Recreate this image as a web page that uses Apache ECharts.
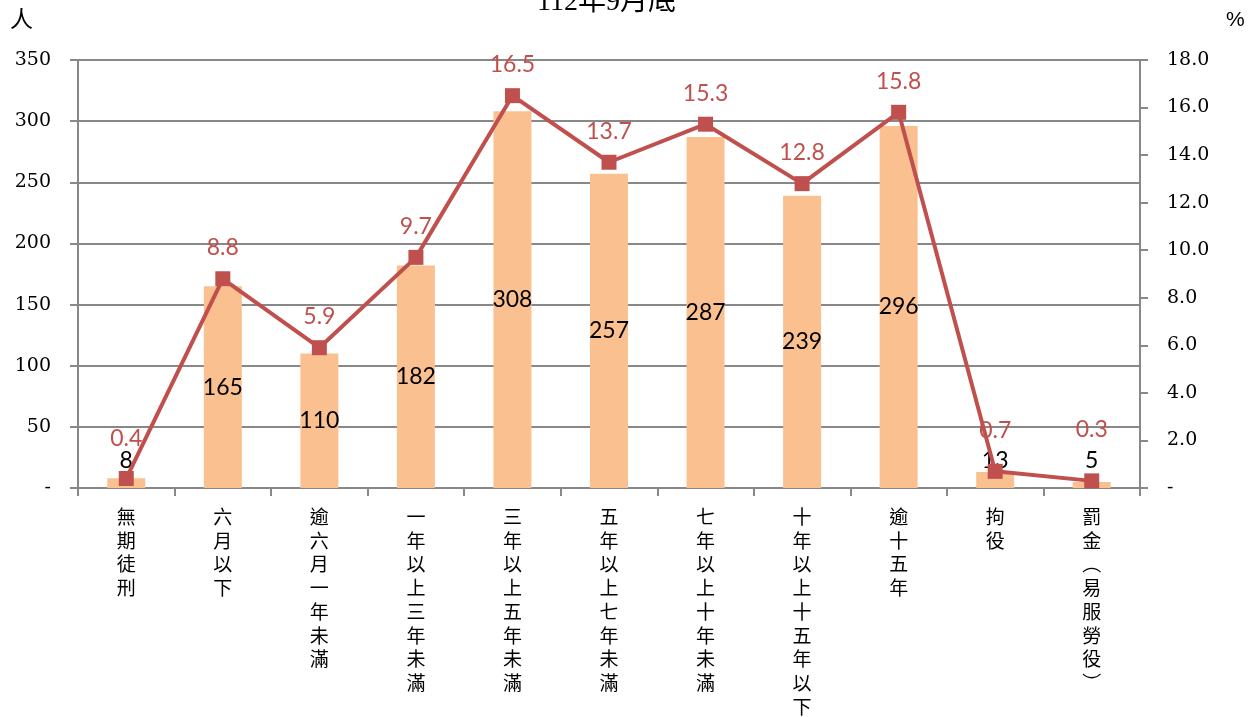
<!DOCTYPE html>
<html><head><meta charset="utf-8">
<script src="https://cdn.jsdelivr.net/npm/echarts@6/dist/echarts.min.js"></script>
<style>html,body{margin:0;padding:0;background:#fff}#c{width:1252px;height:717px}</style>
</head><body><div id="c"></div>
<script>
const categories = ['無期徒刑','六月以下','逾六月一年未滿','一年以上三年未滿','三年以上五年未滿','五年以上七年未滿','七年以上十年未滿','十年以上十五年以下','逾十五年','拘役','罰金(易服勞役)'];
const persons = [8,165,110,182,308,257,287,239,296,13,5];
const percents = [0.4,8.8,5.9,9.7,16.5,13.7,15.3,12.8,15.8,0.7,0.3];
const titleText = '112年9月底';

const serif = 'DejaVu Serif';
const cjk = 'Noto Sans CJK TC';
const numFont = 'Lato';
const axisColor = '#888888';

const chart = echarts.init(document.getElementById('c'));
chart.setOption({
  animation: false,
  graphic: [
    {type: 'text', left: 537, top: -11, style: {text: titleText, fontFamily: 'Liberation Serif, Noto Sans CJK TC', fontSize: 28, fill: '#000'}},
    {type: 'text', left: 10, top: 7, style: {text: '人', fontFamily: cjk, fontSize: 23, fill: '#000'}},
    {type: 'text', left: 1226, top: 10, style: {text: '%', fontFamily: 'Liberation Sans', fontSize: 21, fill: '#000'}}
  ],
  grid: {left: 78, right: 112, top: 60, bottom: 229, outerBoundsMode: 'none', containLabel: false},
  xAxis: {
    type: 'category', data: categories,
    axisLine: {lineStyle: {color: axisColor, width: 2}},
    axisTick: {show: true, length: 8, lineStyle: {color: axisColor, width: 2}},
    axisLabel: {interval: 0, margin: 17, color: '#000', fontSize: 19, fontFamily: cjk, lineHeight: 23.7,
      formatter: v => v.replace('(', '︵').replace(')', '︶').split('').join('\n')}
  },
  yAxis: [
    {type: 'value', min: 0, max: 350, interval: 50,
      axisLine: {show: true, lineStyle: {color: axisColor, width: 2}},
      axisTick: {show: true, length: 8, lineStyle: {color: axisColor, width: 2}},
      splitLine: {lineStyle: {color: axisColor, width: 2}},
      axisLabel: {margin: 27, color: '#000', fontSize: 19, fontFamily: serif,
        formatter: v => v === 0 ? '-' : String(v)}},
    {type: 'value', min: 0, max: 18, interval: 2,
      axisLine: {show: true, lineStyle: {color: axisColor, width: 2}},
      axisTick: {show: true, length: 8, lineStyle: {color: axisColor, width: 2}},
      splitLine: {show: false},
      axisLabel: {margin: 27, color: '#000', fontSize: 19, fontFamily: serif,
        formatter: v => v === 0 ? '-' : v.toFixed(1)}}
  ],
  series: [
    {type: 'bar', yAxisIndex: 0, barWidth: 38, itemStyle: {color: '#FAC090'},
      data: persons.map(v => v < 50
        ? {value: v, label: {position: 'insideBottom', distance: 16}}
        : v),
      label: {show: true, position: 'inside', color: '#000', fontSize: 23, fontFamily: numFont}},
    {type: 'line', yAxisIndex: 1, symbol: 'rect', symbolSize: 15,
      data: percents.map(v => v < 2
        ? {value: v, label: {distance: v === 0.7 ? 22 : (v === 0.4 ? 21 : 32)}}
        : v),
      lineStyle: {color: '#C0504D', width: 4}, itemStyle: {color: '#C0504D'},
      label: {show: true, position: 'top', distance: 12, color: '#C0504D', fontSize: 23, fontFamily: numFont}}
  ]
});
</script></body></html>
